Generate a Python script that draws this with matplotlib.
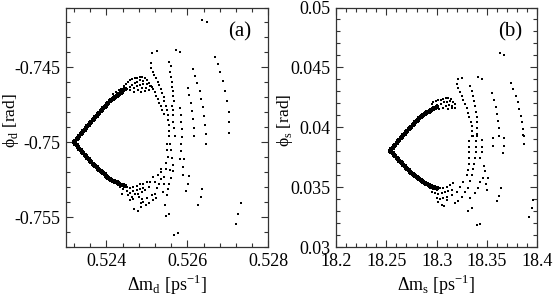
import matplotlib
matplotlib.use("Agg")
import matplotlib.pyplot as plt
from matplotlib.ticker import MultipleLocator, FormatStrFormatter

plt.rcParams['font.family'] = ['Liberation Serif', 'DejaVu Serif']
plt.rcParams['mathtext.fontset'] = 'custom'
plt.rcParams['mathtext.rm'] = 'Liberation Serif'
plt.rcParams['axes.unicode_minus'] = False

# ---------------------------------------------------------------
# Panel (a): B_d system, dense "arm" points and the scattered scan
# ---------------------------------------------------------------
dmd_arm = [
    0.52320, 0.52323, 0.52326, 0.52330, 0.52333, 0.52336, 0.52340, 0.52343, 0.52346, 0.52349,
    0.52353, 0.52356, 0.52359, 0.52363, 0.52366, 0.52369, 0.52372, 0.52376, 0.52379, 0.52382,
    0.52386, 0.52389, 0.52392, 0.52396, 0.52399, 0.52402, 0.52405, 0.52409, 0.52412, 0.52415,
    0.52419, 0.52422, 0.52425, 0.52429, 0.52432, 0.52435, 0.52438, 0.52442, 0.52445,
    0.52323, 0.52326, 0.52330, 0.52333, 0.52336, 0.52340, 0.52343, 0.52346, 0.52349, 0.52353,
    0.52356, 0.52359, 0.52363, 0.52366, 0.52369, 0.52372, 0.52376, 0.52379, 0.52382, 0.52386,
    0.52389, 0.52392, 0.52396, 0.52399, 0.52402, 0.52405, 0.52409, 0.52412, 0.52415, 0.52419,
    0.52422, 0.52425, 0.52429, 0.52432, 0.52435, 0.52438, 0.52442, 0.52445,
]
phid_arm = [
    -0.75001, -0.74990, -0.74979, -0.74969, -0.74958, -0.74947, -0.74937, -0.74926, -0.74915, -0.74905,
    -0.74894, -0.74883, -0.74873, -0.74862, -0.74852, -0.74842, -0.74832, -0.74822, -0.74813, -0.74803,
    -0.74793, -0.74784, -0.74774, -0.74764, -0.74755, -0.74745, -0.74735, -0.74725, -0.74718, -0.74710,
    -0.74703, -0.74696, -0.74689, -0.74682, -0.74675, -0.74668, -0.74661, -0.74653, -0.74646,
    -0.75011, -0.75021, -0.75032, -0.75042, -0.75052, -0.75062, -0.75072, -0.75083, -0.75093, -0.75103,
    -0.75113, -0.75124, -0.75134, -0.75143, -0.75151, -0.75159, -0.75167, -0.75175, -0.75183, -0.75190,
    -0.75198, -0.75206, -0.75214, -0.75222, -0.75230, -0.75238, -0.75246, -0.75250, -0.75255, -0.75259,
    -0.75264, -0.75268, -0.75273, -0.75278, -0.75282, -0.75285, -0.75288, -0.75290,
]

dmd_scan = [
    # top pairs
    0.52635, 0.52649, 0.52513, 0.52526, 0.52573, 0.52583,
    # outer arcs
    0.52668, 0.52675, 0.52681, 0.52689, 0.52694, 0.52699, 0.52702, 0.52704, 0.52704,
    0.52614, 0.52620, 0.52625, 0.52630, 0.52634, 0.52638, 0.52641, 0.52644, 0.52645, 0.52646,
    0.52601, 0.52605, 0.52608, 0.52611, 0.52614, 0.52616, 0.52617,
    0.52583, 0.52584, 0.52585, 0.52586, 0.52587, 0.52584, 0.52584, 0.52583, 0.52592, 0.52590,
    0.52588, 0.52604, 0.52601, 0.52597,
    0.52627, 0.52633, 0.52637, 0.52733, 0.52726, 0.52719, 0.52568, 0.52578,
    # inner arcs
    0.52504, 0.52509, 0.52514, 0.52519, 0.52523, 0.52527, 0.52531, 0.52534, 0.52537, 0.52541,
    0.52510, 0.52511, 0.52514, 0.52518, 0.52523, 0.52527, 0.52531, 0.52535, 0.52538, 0.52541,
    0.52543, 0.52546, 0.52549, 0.52551, 0.52553, 0.52554, 0.52555, 0.52555,
    0.52554, 0.52559, 0.52558, 0.52560, 0.52561, 0.52563, 0.52564, 0.52565, 0.52566, 0.52562,
    0.52564, 0.52565, 0.52565, 0.52567, 0.52569,
    0.52549, 0.52558, 0.52550, 0.52559, 0.52551, 0.52561, 0.52547, 0.52565, 0.52534, 0.52547,
    0.52557, 0.52564, 0.52528, 0.52514, 0.52560, 0.52534, 0.52508, 0.52531, 0.52555, 0.52506,
    0.52524, 0.52553, 0.52520, 0.52512, 0.52549, 0.52545, 0.52554, 0.52547,
    0.52468, 0.52477, 0.52485, 0.52498, 0.52506, 0.52514, 0.52499, 0.52491, 0.52522, 0.52539,
    0.52541, 0.52542, 0.52520, 0.52536,
    # cloud above the upper arm
    0.52417, 0.52424, 0.52430, 0.52437, 0.52443, 0.52448, 0.52453, 0.52458, 0.52463, 0.52470,
    0.52476, 0.52483, 0.52489, 0.52496, 0.52440, 0.52450, 0.52457, 0.52463, 0.52470, 0.52476,
    0.52483, 0.52491, 0.52500, 0.52458, 0.52467, 0.52475, 0.52483, 0.52491, 0.52500, 0.52508,
    0.52478, 0.52488, 0.52498, 0.52506, 0.52513, 0.52468, 0.52485, 0.52495,
    # cloud below the lower arm
    0.52425, 0.52433, 0.52442, 0.52450, 0.52458, 0.52466, 0.52475, 0.52483, 0.52491, 0.52499,
    0.52433, 0.52442, 0.52450, 0.52458, 0.52466, 0.52475, 0.52483, 0.52491, 0.52438, 0.52454,
    0.52462, 0.52471, 0.52479, 0.52487, 0.52495, 0.52458, 0.52466, 0.52481, 0.52489, 0.52485,
]
phid_scan = [
    -0.74184, -0.74195, -0.74406, -0.74388, -0.74382, -0.74397,
    -0.74428, -0.74480, -0.74533, -0.74591, -0.74656, -0.74725, -0.74796, -0.74867, -0.74936,
    -0.74513, -0.74558, -0.74607, -0.74658, -0.74711, -0.74765, -0.74825, -0.74885, -0.74943, -0.75012,
    -0.74636, -0.74685, -0.74736, -0.74789, -0.74845, -0.74903, -0.74956,
    -0.74774, -0.74818, -0.74863, -0.74912, -0.74963, -0.75008, -0.75059, -0.75108, -0.75113, -0.75164,
    -0.75215, -0.75226, -0.75275, -0.75324,
    -0.75415, -0.75366, -0.75313, -0.75408, -0.75478, -0.75542, -0.75616, -0.75607,
    -0.74607, -0.74627, -0.74647, -0.74667, -0.74689, -0.74711, -0.74736, -0.74760, -0.74787, -0.74814,
    -0.74473, -0.74506, -0.74533, -0.74553, -0.74573, -0.74596, -0.74618, -0.74642, -0.74669, -0.74698,
    -0.74727, -0.74756, -0.74787, -0.74818, -0.74852, -0.74885, -0.74921, -0.74956,
    -0.74466, -0.74493, -0.74529, -0.74564, -0.74598, -0.74629, -0.74660, -0.74691, -0.74722, -0.74756,
    -0.74787, -0.74818, -0.74867, -0.74907, -0.74956,
    -0.75008, -0.75008, -0.75052, -0.75052, -0.75097, -0.75104, -0.75141, -0.75148, -0.75175, -0.75181,
    -0.75186, -0.75193, -0.75219, -0.75230, -0.75237, -0.75242, -0.75264, -0.75275, -0.75275, -0.75297,
    -0.75308, -0.75313, -0.75342, -0.75353, -0.75353, -0.75420, -0.75475, -0.75493,
    -0.75446, -0.75455, -0.75431, -0.75420, -0.75408, -0.75386, -0.75371, -0.75397, -0.75371, -0.75330,
    -0.75275, -0.75230, -0.75264, -0.75197,
    -0.74676, -0.74667, -0.74653, -0.74644, -0.74627, -0.74609, -0.74596, -0.74587, -0.74578, -0.74573,
    -0.74569, -0.74564, -0.74562, -0.74569, -0.74658, -0.74644, -0.74631, -0.74618, -0.74604, -0.74596,
    -0.74587, -0.74591, -0.74587, -0.74653, -0.74640, -0.74627, -0.74618, -0.74613, -0.74609, -0.74622,
    -0.74649, -0.74640, -0.74636, -0.74649, -0.74631, -0.74662, -0.74667, -0.74658,
    -0.75264, -0.75275, -0.75290, -0.75297, -0.75304, -0.75297, -0.75290, -0.75281, -0.75275, -0.75264,
    -0.75297, -0.75313, -0.75326, -0.75335, -0.75326, -0.75319, -0.75313, -0.75304, -0.75342, -0.75353,
    -0.75364, -0.75348, -0.75342, -0.75330, -0.75319, -0.75386, -0.75375, -0.75364, -0.75379, -0.75408,
]

# ---------------------------------------------------------------
# Panel (b): B_s system
# ---------------------------------------------------------------
dms_arm = [
    18.25367, 18.25499, 18.25632, 18.25764, 18.25897, 18.26029, 18.26161, 18.26294, 18.26426, 18.26559,
    18.26691, 18.26823, 18.26956, 18.27088, 18.27221, 18.27353, 18.27485, 18.27618, 18.27750, 18.27883,
    18.28015, 18.28147, 18.28280, 18.28412, 18.28545, 18.28677, 18.28809, 18.28942, 18.29074, 18.29207,
    18.29339, 18.29471, 18.29604, 18.29736, 18.29869, 18.30001,
    18.25499, 18.25632, 18.25764, 18.25897, 18.26029, 18.26161, 18.26294, 18.26426, 18.26559,
    18.26691, 18.26823, 18.26956, 18.27088, 18.27221, 18.27353, 18.27485, 18.27618, 18.27750, 18.27883,
    18.28015, 18.28147, 18.28280, 18.28412, 18.28545, 18.28677, 18.28809, 18.28942, 18.29074, 18.29207,
    18.29339, 18.29471, 18.29604, 18.29736, 18.29869, 18.30001,
]
phis_arm = [
    0.038057, 0.038184, 0.038312, 0.038440, 0.038568, 0.038695, 0.038823, 0.038951, 0.039079, 0.039206,
    0.039334, 0.039456, 0.039578, 0.039701, 0.039823, 0.039945, 0.040067, 0.040189, 0.040306, 0.040417,
    0.040528, 0.040639, 0.040750, 0.040850, 0.040939, 0.041028, 0.041106, 0.041184, 0.041256, 0.041322,
    0.041389, 0.041456, 0.041522, 0.041583, 0.041639, 0.041694,
    0.037937, 0.037821, 0.037701, 0.037582, 0.037465, 0.037346, 0.037226, 0.037110, 0.036990,
    0.036871, 0.036754, 0.036640, 0.036532, 0.036424, 0.036315, 0.036207, 0.036099, 0.035996, 0.035913,
    0.035829, 0.035746, 0.035663, 0.035580, 0.035513, 0.035446, 0.035380, 0.035313, 0.035246, 0.035188,
    0.035135, 0.035085, 0.035033, 0.034986, 0.034952, 0.034919,
]

dms_scan = [
    18.36290, 18.36720, 18.32086, 18.32484, 18.34072, 18.34470,
    18.37349, 18.37614, 18.37879, 18.38044, 18.38210, 18.38342, 18.38508, 18.38607, 18.38673,
    18.35463, 18.35694, 18.35893, 18.36026, 18.36125, 18.36191, 18.36224,
    18.31987, 18.32119, 18.32318, 18.32484, 18.32649, 18.32815, 18.32980, 18.33112, 18.33245, 18.33377,
    18.33477, 18.33543, 18.33609,
    18.33311, 18.33477, 18.33642, 18.33741, 18.33841, 18.33907, 18.33973, 18.34006, 18.34039, 18.34039,
    # cloud above the upper arm
    18.29505, 18.29670, 18.29935, 18.30167, 18.30431, 18.30663, 18.30928, 18.31160, 18.31392, 18.30067,
    18.30398, 18.30729, 18.30994, 18.31325, 18.31590, 18.30597, 18.30928, 18.31259, 18.31524, 18.31788,
    18.29670, 18.30266, 18.31160, 18.31491, 18.31822,
    # lower half columns
    18.33543, 18.33973, 18.33245, 18.33940, 18.33245, 18.33907, 18.33245, 18.33874, 18.33245, 18.33808,
    18.33179, 18.33741, 18.33146, 18.33642, 18.32980, 18.33477, 18.32649, 18.33311, 18.32318, 18.33146,
    18.31987, 18.32815, 18.31491, 18.32484, 18.30994, 18.32153, 18.30498, 18.31822,
    18.34470, 18.34470, 18.34470, 18.34304, 18.34668, 18.34801, 18.34635, 18.34304, 18.34139, 18.33808,
    18.33311, 18.33146, 18.33477,
    18.35628, 18.35562, 18.35132, 18.34900, 18.34966,
    18.36687, 18.36720, 18.36621,
    18.38607, 18.38673, 18.36356, 18.36191, 18.35959, 18.39600, 18.39435, 18.39170, 18.33973, 18.34304,
    # cloud below the lower arm
    18.29008, 18.29339, 18.29670, 18.30001, 18.30332, 18.30663, 18.30994, 18.31325, 18.31656, 18.29505,
    18.29836, 18.30167, 18.30498, 18.30829, 18.31160, 18.31491, 18.30001, 18.30332, 18.30663, 18.30994,
    18.30762, 18.30167,
]
phis_scan = [
    0.046166, 0.046027, 0.044000, 0.044138, 0.044194, 0.044027,
    0.043666, 0.043194, 0.042639, 0.042083, 0.041500, 0.040945, 0.040417, 0.039862, 0.039306,
    0.042833, 0.042278, 0.041722, 0.041111, 0.040528, 0.039917, 0.039306,
    0.043583, 0.043250, 0.042916, 0.042583, 0.042250, 0.041917, 0.041583, 0.041222, 0.040861, 0.040473,
    0.040084, 0.039695, 0.039306,
    0.043444, 0.043028, 0.042639, 0.042194, 0.041750, 0.041306, 0.040861, 0.040417, 0.039917, 0.039417,
    0.041917, 0.042083, 0.042194, 0.042250, 0.042305, 0.042361, 0.042416, 0.042416, 0.042361, 0.041861,
    0.041972, 0.042083, 0.042139, 0.042194, 0.042083, 0.041639, 0.041806, 0.041861, 0.041806, 0.041917,
    0.041583, 0.041528, 0.041528, 0.041583, 0.041639,
    0.039306, 0.039306, 0.038862, 0.038862, 0.038390, 0.038390, 0.037974, 0.037974, 0.037474, 0.037418,
    0.036918, 0.036918, 0.036446, 0.036502, 0.036030, 0.036030, 0.035474, 0.035530, 0.035058, 0.034974,
    0.034641, 0.034586, 0.034363, 0.034225, 0.033947, 0.033864, 0.033530, 0.033669,
    0.038945, 0.038390, 0.037918, 0.037418, 0.036807, 0.036363, 0.035808, 0.035474, 0.034919, 0.034502,
    0.034086, 0.033031, 0.033253,
    0.039084, 0.038446, 0.035752, 0.035252, 0.034780,
    0.039140, 0.038473, 0.037890,
    0.039362, 0.038584, 0.034919, 0.034308, 0.033864, 0.033947, 0.033253, 0.032558, 0.031864, 0.031920,
    0.035197, 0.034974, 0.034863, 0.034780, 0.034919, 0.034974, 0.035058, 0.035197, 0.035335, 0.034641,
    0.034502, 0.034419, 0.034502, 0.034641, 0.034697, 0.034780, 0.034141, 0.034030, 0.034141, 0.034225,
    0.033447, 0.033808,
]

FONT = 13


def style_axis(ax, xlim, ylim, xmaj, xmin, ymaj, ymin):
    """Grace-like frame: inward ticks on all four sides."""
    ax.set_xlim(*xlim)
    ax.set_ylim(*ylim)
    ax.xaxis.set_major_locator(MultipleLocator(xmaj))
    ax.xaxis.set_minor_locator(MultipleLocator(xmin))
    ax.yaxis.set_major_locator(MultipleLocator(ymaj))
    ax.yaxis.set_minor_locator(MultipleLocator(ymin))
    ax.xaxis.set_major_formatter(FormatStrFormatter('%g'))
    ax.yaxis.set_major_formatter(FormatStrFormatter('%g'))
    ax.tick_params(which='both', direction='in', top=True, right=True,
                   labelsize=FONT, width=0.8, color='#333333')
    ax.tick_params(which='major', length=5, pad=4)
    ax.tick_params(which='minor', length=3)
    for sp in ax.spines.values():
        sp.set_linewidth(0.9)
        sp.set_color('#333333')


fig = plt.figure(figsize=(5.54, 2.99), dpi=100)
ax1 = fig.add_axes([0.1191, 0.1732, 0.3652, 0.8017])
ax2 = fig.add_axes([0.6065, 0.1732, 0.3634, 0.8017])

# the arms are packed so densely that they read as thick lines
ax1.plot(dmd_arm, phid_arm, 's', ms=2.4, mew=0, color='black')
ax1.plot(dmd_scan, phid_scan, 's', ms=1.9, mew=0, color='black')
ax2.plot(dms_arm, phis_arm, 's', ms=2.4, mew=0, color='black')
ax2.plot(dms_scan, phis_scan, 's', ms=1.9, mew=0, color='black')

style_axis(ax1, (0.523, 0.528), (-0.757, -0.741), 0.002, 0.0004, 0.005, 0.001)
style_axis(ax2, (18.2, 18.4), (0.03, 0.05), 0.05, 0.01, 0.005, 0.001)

ax1.set_xlabel('Δm$_\\mathregular{d}$ [ps$^\\mathregular{-1}$]', fontsize=FONT, labelpad=2)
ax1.set_ylabel('ϕ$_\\mathregular{d}$ [rad]', fontsize=12.5)
ax1.yaxis.set_label_coords(-0.222, 0.53)
ax2.set_xlabel('Δm$_\\mathregular{s}$ [ps$^\\mathregular{-1}$]', fontsize=FONT, labelpad=2)
ax2.set_ylabel('ϕ$_\\mathregular{s}$ [rad]', fontsize=12.5)
ax2.yaxis.set_label_coords(-0.205, 0.53)

ax1.text(0.86, 0.90, '(a)', transform=ax1.transAxes, fontsize=15, ha='center', va='center')
ax2.text(0.864, 0.90, '(b)', transform=ax2.transAxes, fontsize=15, ha='center', va='center')

fig.savefig('out.png', dpi=100)
